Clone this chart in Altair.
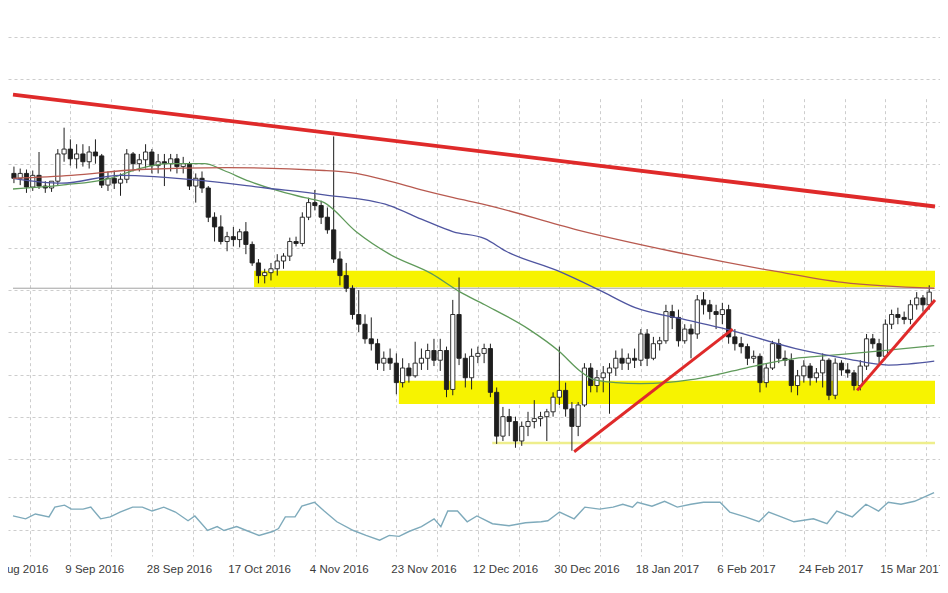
import altair as alt
import pandas as pd

# ---------------- data ----------------
date_labels = ["23 Aug 2016", "9 Sep 2016", "28 Sep 2016", "17 Oct 2016", "4 Nov 2016",
               "23 Nov 2016", "12 Dec 2016", "30 Dec 2016", "18 Jan 2017", "6 Feb 2017",
               "24 Feb 2017", "15 Mar 2017"]
label_bar = [0, 13, 26, 39, 52, 65, 78, 91, 104, 117, 130, 143]

bar_index = list(range(4, 151))

opens = [1.1190, 1.1175, 1.1190, 1.1148, 1.1184, 1.1151, 1.1145, 1.1166, 1.1250, 1.1265,
         1.1235, 1.1250, 1.1226, 1.1256, 1.1244, 1.1154, 1.1175, 1.1160, 1.1172, 1.1250,
         1.1220, 1.1232, 1.1256, 1.1214, 1.1226, 1.1220, 1.1235, 1.1211, 1.1220, 1.1151,
         1.1175, 1.1145, 1.1055, 1.1025, 1.0980, 1.0995, 1.0986, 1.1010, 1.0971, 1.0914,
         1.0875, 1.0884, 1.0896, 1.0920, 1.0935, 1.0980, 1.0974, 1.1055, 1.1100, 1.1091,
         1.1055, 1.1016, 1.0926, 1.0875, 1.0836, 1.0755, 1.0725, 1.0680, 1.0665, 1.0605,
         1.0620, 1.0605, 1.0545, 1.0590, 1.0566, 1.0605, 1.0620, 1.0644, 1.0614, 1.0644,
         1.0524, 1.0755, 1.0620, 1.0560, 1.0626, 1.0635, 1.0650, 1.0515, 1.0380, 1.0440,
         1.0425, 1.0365, 1.0410, 1.0425, 1.0434, 1.0440, 1.0455, 1.0500, 1.0521, 1.0464,
         1.0410, 1.0476, 1.0590, 1.0536, 1.0560, 1.0575, 1.0590, 1.0620, 1.0605, 1.0620,
         1.0614, 1.0695, 1.0620, 1.0665, 1.0674, 1.0764, 1.0746, 1.0674, 1.0710, 1.0695,
         1.0800, 1.0785, 1.0764, 1.0755, 1.0770, 1.0686, 1.0665, 1.0656, 1.0620, 1.0626,
         1.0545, 1.0590, 1.0665, 1.0620, 1.0614, 1.0536, 1.0566, 1.0596, 1.0560, 1.0575,
         1.0614, 1.0506, 1.0605, 1.0584, 1.0575, 1.0536, 1.0596, 1.0680, 1.0665, 1.0626,
         1.0725, 1.0755, 1.0746, 1.0740, 1.0785, 1.0806, 1.0785]

highs = [1.1211, 1.1205, 1.1202, 1.1199, 1.1256, 1.1166, 1.1160, 1.1265, 1.1331, 1.1295,
         1.1280, 1.1280, 1.1274, 1.1295, 1.1250, 1.1196, 1.1199, 1.1190, 1.1265, 1.1256,
         1.1250, 1.1280, 1.1265, 1.1250, 1.1250, 1.1250, 1.1250, 1.1241, 1.1226, 1.1190,
         1.1196, 1.1151, 1.1070, 1.1061, 1.1010, 1.1025, 1.1019, 1.1040, 1.0980, 1.0926,
         1.0896, 1.0914, 1.0941, 1.0944, 1.0992, 1.0995, 1.1070, 1.1115, 1.1139, 1.1106,
         1.1085, 1.1304, 1.0950, 1.0914, 1.0845, 1.0830, 1.0755, 1.0746, 1.0680, 1.0641,
         1.0650, 1.0635, 1.0620, 1.0605, 1.0671, 1.0650, 1.0665, 1.0680, 1.0680, 1.0656,
         1.0800, 1.0869, 1.0635, 1.0650, 1.0656, 1.0665, 1.0665, 1.0530, 1.0470, 1.0464,
         1.0440, 1.0425, 1.0455, 1.0491, 1.0455, 1.0464, 1.0515, 1.0656, 1.0545, 1.0485,
         1.0485, 1.0605, 1.0605, 1.0584, 1.0596, 1.0605, 1.0644, 1.0650, 1.0635, 1.0650,
         1.0710, 1.0710, 1.0686, 1.0686, 1.0785, 1.0785, 1.0770, 1.0725, 1.0725, 1.0815,
         1.0824, 1.0800, 1.0785, 1.0791, 1.0785, 1.0710, 1.0686, 1.0665, 1.0644, 1.0635,
         1.0605, 1.0674, 1.0680, 1.0644, 1.0635, 1.0584, 1.0614, 1.0605, 1.0590, 1.0635,
         1.0620, 1.0620, 1.0614, 1.0605, 1.0584, 1.0614, 1.0695, 1.0695, 1.0680, 1.0740,
         1.0770, 1.0776, 1.0764, 1.0800, 1.0824, 1.0815, 1.0845]

lows = [1.1160, 1.1154, 1.1130, 1.1136, 1.1142, 1.1130, 1.1133, 1.1154, 1.1226, 1.1214,
        1.1205, 1.1211, 1.1205, 1.1220, 1.1145, 1.1136, 1.1142, 1.1121, 1.1160, 1.1196,
        1.1196, 1.1205, 1.1190, 1.1190, 1.1151, 1.1196, 1.1190, 1.1190, 1.1139, 1.1100,
        1.1130, 1.1040, 1.0980, 1.0971, 1.0950, 1.0965, 1.0962, 1.0941, 1.0905, 1.0851,
        1.0851, 1.0860, 1.0875, 1.0896, 1.0920, 1.0965, 1.0965, 1.1046, 1.1076, 1.1034,
        1.1004, 1.0914, 1.0845, 1.0824, 1.0740, 1.0701, 1.0665, 1.0644, 1.0584, 1.0581,
        1.0584, 1.0509, 1.0530, 1.0545, 1.0560, 1.0584, 1.0584, 1.0596, 1.0581, 1.0500,
        1.0506, 1.0599, 1.0530, 1.0524, 1.0605, 1.0605, 1.0500, 1.0356, 1.0365, 1.0380,
        1.0344, 1.0350, 1.0380, 1.0404, 1.0410, 1.0365, 1.0440, 1.0476, 1.0440, 1.0335,
        1.0380, 1.0470, 1.0515, 1.0515, 1.0515, 1.0449, 1.0566, 1.0584, 1.0584, 1.0590,
        1.0596, 1.0596, 1.0614, 1.0644, 1.0665, 1.0710, 1.0656, 1.0665, 1.0620, 1.0680,
        1.0755, 1.0740, 1.0710, 1.0725, 1.0665, 1.0644, 1.0635, 1.0599, 1.0605, 1.0515,
        1.0530, 1.0584, 1.0605, 1.0596, 1.0515, 1.0506, 1.0545, 1.0536, 1.0545, 1.0530,
        1.0491, 1.0494, 1.0566, 1.0560, 1.0521, 1.0521, 1.0584, 1.0650, 1.0605, 1.0620,
        1.0710, 1.0725, 1.0725, 1.0725, 1.0770, 1.0764, 1.0770]

closes = [1.1175, 1.1190, 1.1148, 1.1184, 1.1151, 1.1145, 1.1166, 1.1250, 1.1265, 1.1235,
          1.1250, 1.1226, 1.1256, 1.1244, 1.1154, 1.1175, 1.1160, 1.1172, 1.1250, 1.1220,
          1.1232, 1.1256, 1.1214, 1.1226, 1.1220, 1.1235, 1.1211, 1.1220, 1.1151, 1.1175,
          1.1145, 1.1055, 1.1025, 1.0980, 1.0995, 1.0986, 1.1010, 1.0971, 1.0914, 1.0875,
          1.0884, 1.0896, 1.0920, 1.0935, 1.0980, 1.0974, 1.1055, 1.1100, 1.1091, 1.1055,
          1.1016, 1.0926, 1.0875, 1.0836, 1.0755, 1.0725, 1.0680, 1.0665, 1.0605, 1.0620,
          1.0605, 1.0545, 1.0590, 1.0566, 1.0605, 1.0620, 1.0644, 1.0614, 1.0644, 1.0524,
          1.0755, 1.0620, 1.0560, 1.0626, 1.0635, 1.0650, 1.0515, 1.0380, 1.0440, 1.0425,
          1.0365, 1.0410, 1.0425, 1.0434, 1.0440, 1.0455, 1.0500, 1.0521, 1.0464, 1.0410,
          1.0476, 1.0590, 1.0536, 1.0560, 1.0575, 1.0590, 1.0620, 1.0605, 1.0620, 1.0614,
          1.0695, 1.0620, 1.0665, 1.0674, 1.0764, 1.0746, 1.0674, 1.0710, 1.0695, 1.0800,
          1.0785, 1.0764, 1.0755, 1.0770, 1.0686, 1.0665, 1.0656, 1.0620, 1.0626, 1.0545,
          1.0590, 1.0665, 1.0620, 1.0614, 1.0536, 1.0566, 1.0596, 1.0560, 1.0575, 1.0614,
          1.0506, 1.0605, 1.0584, 1.0575, 1.0536, 1.0596, 1.0680, 1.0665, 1.0626, 1.0725,
          1.0755, 1.0746, 1.0740, 1.0785, 1.0806, 1.0785, 1.0824]

# moving averages (read as points along each line)
green_i = [3.85, 11.6, 19.4, 24.0, 28.7, 34.4, 37.5, 41.5, 45.7, 50.4,
           53.5, 58.6, 63.9, 70.6, 75.2, 79.1, 86.1, 91.0, 94.3, 96.5,
           100.0, 103.9, 112.0, 116.0, 120.7, 128.7, 132.1, 141.4, 150.8]
green_p = [1.1142, 1.1154, 1.1175, 1.1205, 1.1220, 1.1220, 1.1199, 1.1166, 1.1139, 1.1115,
           1.1100, 1.1010, 1.0941, 1.0881, 1.0824, 1.0785, 1.0710, 1.0641, 1.0581, 1.0554,
           1.0545, 1.0542, 1.0554, 1.0569, 1.0590, 1.0620, 1.0626, 1.0641, 1.0659]
blue_i = [3.85, 11.6, 20.9, 34.9, 44.2, 53.5, 63.9, 69.0, 74.1, 79.1,
          82.5, 90.7, 97.4, 103.1, 110.9, 117.6, 128.7, 136.5, 143.5, 150.8]
blue_p = [1.1175, 1.1160, 1.1184, 1.1166, 1.1145, 1.1124, 1.1091, 1.1049, 1.1010, 1.0989,
          1.0950, 1.0890, 1.0830, 1.0776, 1.0740, 1.0710, 1.0650, 1.0620, 1.0599, 1.0611]
red_i = [3.85, 13.2, 24.0, 38.0, 53.5, 58.6, 63.9, 69.0, 74.1, 79.1, 93.8, 108.9, 124.9, 136.2, 150.8]
red_p = [1.1175, 1.1184, 1.1202, 1.1208, 1.1199, 1.1190, 1.1166, 1.1139, 1.1115, 1.1094,
         1.1016, 1.0950, 1.0890, 1.0854, 1.0836]

# drawn trend lines
trend_main_i = [3.85, 150.92]
trend_main_p = [1.1433, 1.1088]
trend_up_id = ["a", "a", "b", "b"]
trend_up_i = [93.36, 118.65, 138.5, 150.92]
trend_up_p = [1.0332, 1.0710, 1.0521, 1.0800]

# yellow zones and levels
band_start = [42.3, 65.4]
band_end = [150.92, 150.92]
band_top = [1.0890, 1.0551]
band_bottom = [1.0839, 1.0479]
support_start = [80.3]
support_end = [150.92]
support_top = [1.0363]
support_bottom = [1.0355]
level_start = [3.85]
level_end = [150.92]
level_p = [1.0836]

# oscillator
osc_i = [3.85, 5.87, 7.42, 9.59, 10.52, 12.07, 13.16, 15.02, 16.26, 17.82,
         19.36, 20.92, 22.93, 24.48, 26.03, 27.9, 29.76, 31.77, 32.86, 34.88,
         36.42, 37.51, 39.53, 41.08, 43.1, 45.27, 46.2, 47.29, 48.84, 49.92,
         51.94, 53.49, 55.51, 58.15, 60.16, 62.33, 63.88, 65.44, 67.0, 69.0,
         71.02, 72.1, 73.2, 74.75, 76.3, 77.85, 80.33, 82.97, 85.6, 88.1,
         89.17, 91.03, 93.36, 95.07, 97.4, 99.57, 101.12, 102.67, 103.45, 105.77,
         107.79, 109.81, 111.98, 113.99, 116.63, 118.18, 120.67, 122.84, 124.39, 126.4,
         128.42, 131.52, 133.69, 135.25, 137.73, 139.9, 141.92, 143.47, 145.49, 147.66, 150.77]
osc_v = [47.1, 43.7, 49.4, 46.0, 57.5, 59.8, 55.2, 55.2, 57.5, 43.7,
         46.0, 51.7, 57.5, 57.5, 52.9, 57.5, 51.7, 41.4, 47.1, 29.9,
         34.5, 29.9, 34.5, 29.9, 24.1, 28.7, 32.2, 46.0, 46.0, 58.6,
         63.2, 52.9, 40.2, 29.9, 24.1, 18.4, 24.1, 23.0, 28.7, 34.5,
         43.7, 34.5, 52.9, 52.9, 40.2, 47.1, 37.9, 35.6, 39.1, 40.2,
         41.4, 51.7, 43.7, 57.5, 55.2, 57.5, 60.9, 57.5, 63.2, 58.6,
         64.4, 57.5, 60.9, 63.2, 63.2, 51.7, 46.0, 40.2, 51.7, 46.0,
         40.2, 43.7, 37.9, 52.9, 46.0, 60.9, 52.9, 63.2, 60.9, 64.4, 74.7]

grid_prices = [1.161, 1.148, 1.135, 1.122, 1.109, 1.096, 1.083, 1.070, 1.057, 1.044, 1.031]
osc_levels = [30, 70]

# ---------------- layout ----------------
W, H = 932, 577
SX, SY = W / 948, H / 593
PLOT_H = 548
X_DOMAIN = [3.85, 150.92]
MAIN_DOMAIN = [1.029, 1.17]
OSC_DOMAIN = [0, 100]

xs = alt.Scale(domain=X_DOMAIN, nice=False, zero=False)
ys_main = alt.Scale(domain=MAIN_DOMAIN, range=[470 * SY, 0], nice=False, zero=False)
ys_osc = alt.Scale(domain=OSC_DOMAIN, range=[563 * SY, 476 * SY], nice=False, zero=False)

GRID = "#cdcdcd"
x_axis = alt.Axis(values=[6.5 * k for k in range(0, 24)], labels=False,
                  grid=True, gridDash=[3, 3], gridColor=GRID, gridWidth=1,
                  ticks=False, domain=False, title=None)
y_axis_main = alt.Axis(values=grid_prices, grid=True, gridDash=[3, 3], gridColor=GRID,
                       labels=False, ticks=False, domain=False, title=None)
y_axis_osc = alt.Axis(values=osc_levels, grid=True, gridDash=[3, 3], gridColor=GRID,
                      labels=False, ticks=False, domain=False, title=None)


def XQ(field):
    # the same axis spec on every layer so the shared x axis merges cleanly
    return alt.X(f"{field}:Q", scale=xs, axis=x_axis)


def YM(field, axis=None):
    return alt.Y(f"{field}:Q", scale=ys_main, axis=axis)


candles = pd.DataFrame({"i": bar_index, "o": opens, "h": highs, "l": lows, "c": closes})
bands = pd.DataFrame({"x1": band_start, "x2": band_end, "t": band_top, "b": band_bottom})
support = pd.DataFrame({"x1": support_start, "x2": support_end, "t": support_top, "b": support_bottom})
level = pd.DataFrame({"x1": level_start, "x2": level_end, "p": level_p})
green = pd.DataFrame({"i": green_i, "p": green_p})
blue = pd.DataFrame({"i": blue_i, "p": blue_p})
red = pd.DataFrame({"i": red_i, "p": red_p})
tmain = pd.DataFrame({"i": trend_main_i, "p": trend_main_p})
tup = pd.DataFrame({"id": trend_up_id, "i": trend_up_i, "p": trend_up_p})
osc = pd.DataFrame({"i": osc_i, "v": osc_v})
dates = pd.DataFrame({"i": label_bar, "label": date_labels})

band_layer = alt.Chart(bands).mark_rect(color="#f7f300").encode(
    x=XQ("x1"), x2="x2:Q", y=YM("t", y_axis_main), y2="b:Q")
support_layer = alt.Chart(support).mark_rect(color="#eeee8c").encode(
    x=XQ("x1"), x2="x2:Q", y=YM("t"), y2="b:Q")
level_layer = alt.Chart(level).mark_rule(color="#a3a3a3", strokeWidth=1).encode(
    x=XQ("x1"), x2="x2:Q", y=YM("p"))
wick_layer = alt.Chart(candles).mark_rule(color="#1e1e1e", strokeWidth=1).encode(
    x=XQ("i"), y=YM("l"), y2="h:Q")
bull_layer = alt.Chart(candles).transform_filter("datum.c >= datum.o").mark_bar(
    size=4.2, fill="#ffffff", stroke="#1e1e1e", strokeWidth=0.9).encode(
    x=XQ("i"), y=YM("o"), y2="c:Q")
bear_layer = alt.Chart(candles).transform_filter("datum.c < datum.o").mark_bar(
    size=4.2, fill="#1e1e1e", stroke="#1e1e1e", strokeWidth=0.9).encode(
    x=XQ("i"), y=YM("o"), y2="c:Q")
green_layer = alt.Chart(green).mark_line(color="#5f9a5a", strokeWidth=1.3, interpolate="monotone").encode(
    x=XQ("i"), y=YM("p"))
blue_layer = alt.Chart(blue).mark_line(color="#4f55a0", strokeWidth=1.3, interpolate="monotone").encode(
    x=XQ("i"), y=YM("p"))
red_layer = alt.Chart(red).mark_line(color="#b85a50", strokeWidth=1.3, interpolate="monotone").encode(
    x=XQ("i"), y=YM("p"))
tmain_layer = alt.Chart(tmain).mark_line(color="#df2a2a", strokeWidth=3.8).encode(
    x=XQ("i"), y=YM("p"))
tup_layer = alt.Chart(tup).mark_line(color="#df2a2a", strokeWidth=3).encode(
    x=XQ("i"), y=YM("p"), detail="id:N")
osc_layer = alt.Chart(osc).mark_line(color="#7eaabb", strokeWidth=1.4).encode(
    x=XQ("i"), y=alt.Y("v:Q", scale=ys_osc, axis=y_axis_osc))
# date labels: one row under the indicator panel, left-aligned at their grid lines
date_layer = alt.Chart(dates).mark_text(
    align="left", baseline="middle", dx=-5, font="Liberation Sans", fontSize=11.5,
    color="#3a3a3a").encode(x=XQ("i"), y=alt.value(562), text="label:N")

chart = alt.layer(
    band_layer, support_layer, level_layer, wick_layer, bull_layer, bear_layer,
    green_layer, blue_layer, red_layer, tmain_layer, tup_layer, osc_layer, date_layer
).resolve_scale(y="independent").properties(
    width=W, height=PLOT_H,
    padding={"left": 0, "top": 0, "right": 0, "bottom": H - PLOT_H},
    autosize=alt.AutoSizeParams(type="none"),
    background="white",
).configure_view(stroke=None)

chart.save("out.html", embed_options={"renderer": "svg", "actions": False})
